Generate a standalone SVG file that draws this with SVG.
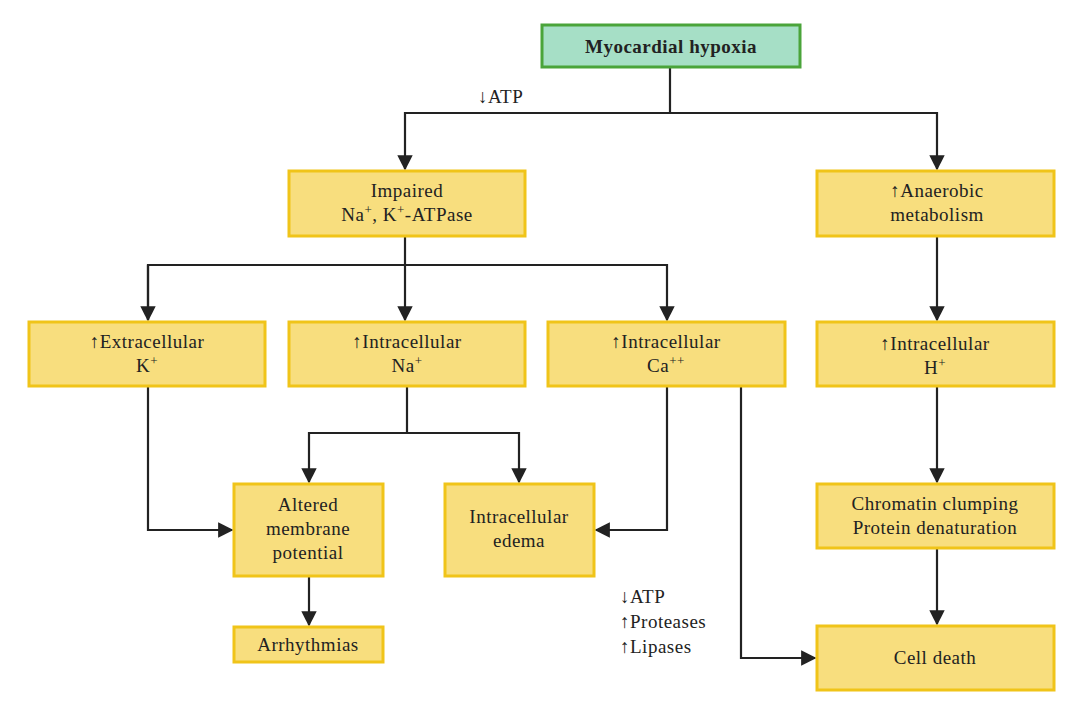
<svg xmlns="http://www.w3.org/2000/svg" width="1086" height="712" viewBox="0 0 1086 712">
<style>
.b{fill:#f8de7e;stroke:#f0c419;stroke-width:3}
.g{fill:#a6dfc6;stroke:#4aa43a;stroke-width:3}
text{font-family:"Liberation Serif",serif;font-size:19px;fill:#222;text-anchor:middle;letter-spacing:0.5px}
.l{text-anchor:start}
.c{fill:none;stroke:#222;stroke-width:2.2}
</style>
<defs><marker id="a" viewBox="0 0 10 10" refX="9" refY="5" markerWidth="7" markerHeight="7" orient="auto"><path d="M0,0 L10,5 L0,10 z" fill="#222"/></marker></defs>
<rect width="1086" height="712" fill="#fff"/>
<g id="connectors" class="c">
<path d="M670,67 V113 H405 V169" marker-end="url(#a)"/>
<path d="M670,113 H937 V169" marker-end="url(#a)"/>
<path d="M405,236 V320" marker-end="url(#a)"/>
<path d="M148,320 V265 H667 V320" marker-end="url(#a)"/>
<path d="M148,265 V320" marker-end="url(#a)"/>
<path d="M937,236 V320" marker-end="url(#a)"/>
<path d="M937,386 V482" marker-end="url(#a)"/>
<path d="M937,548 V624" marker-end="url(#a)"/>
<path d="M148,386 V530 H232" marker-end="url(#a)"/>
<path d="M407,386 V433 H309 V482" marker-end="url(#a)"/>
<path d="M407,433 H519 V482" marker-end="url(#a)"/>
<path d="M667,386 V530 H596" marker-end="url(#a)"/>
<path d="M741,386 V658 H815" marker-end="url(#a)"/>
<path d="M309,576 V625" marker-end="url(#a)"/>
</g>
<g id="hypoxia"><rect class="g" x="542" y="25" width="258" height="42"/><text x="671" y="53" font-weight="bold">Myocardial hypoxia</text></g>
<g id="impaired"><rect class="b" x="289" y="171" width="236" height="65"/><text x="407" y="197">Impaired</text><text x="407" y="221">Na<tspan dy="-7" font-size="13">+</tspan><tspan dy="7">, K</tspan><tspan dy="-7" font-size="13">+</tspan><tspan dy="7">-ATPase</tspan></text></g>
<g id="anaerobic"><rect class="b" x="817" y="171" width="237" height="65"/><text x="937" y="197">↑Anaerobic</text><text x="937" y="221">metabolism</text></g>
<g id="extk"><rect class="b" x="29" y="322" width="236" height="64"/><text x="147" y="348">↑Extracellular</text><text x="147" y="372">K<tspan dy="-7" font-size="13">+</tspan></text></g>
<g id="intna"><rect class="b" x="289" y="322" width="236" height="64"/><text x="407" y="348">↑Intracellular</text><text x="407" y="372">Na<tspan dy="-7" font-size="13">+</tspan></text></g>
<g id="intca"><rect class="b" x="548" y="322" width="237" height="64"/><text x="666" y="348">↑Intracellular</text><text x="666" y="372">Ca<tspan dy="-7" font-size="13">++</tspan></text></g>
<g id="inth"><rect class="b" x="817" y="322" width="237" height="64"/><text x="935" y="350">↑Intracellular</text><text x="935" y="374">H<tspan dy="-7" font-size="13">+</tspan></text></g>
<g id="altered"><rect class="b" x="234" y="484" width="149" height="92"/><text x="308" y="511">Altered</text><text x="308" y="535">membrane</text><text x="308" y="559">potential</text></g>
<g id="edema"><rect class="b" x="445" y="484" width="149" height="92"/><text x="519" y="523">Intracellular</text><text x="519" y="547">edema</text></g>
<g id="chromatin"><rect class="b" x="817" y="484" width="237" height="64"/><text x="935" y="510">Chromatin clumping</text><text x="935" y="534">Protein denaturation</text></g>
<g id="arrhythmias"><rect class="b" x="234" y="627" width="149" height="35"/><text x="308" y="651">Arrhythmias</text></g>
<g id="celldeath"><rect class="b" x="817" y="626" width="237" height="64"/><text x="935" y="664">Cell death</text></g>
<g id="labels">
<text class="l" x="478" y="103">↓ATP</text>
<text class="l" x="620" y="603">↓ATP</text>
<text class="l" x="620" y="628">↑Proteases</text>
<text class="l" x="620" y="653">↑Lipases</text>
</g>
</svg>
